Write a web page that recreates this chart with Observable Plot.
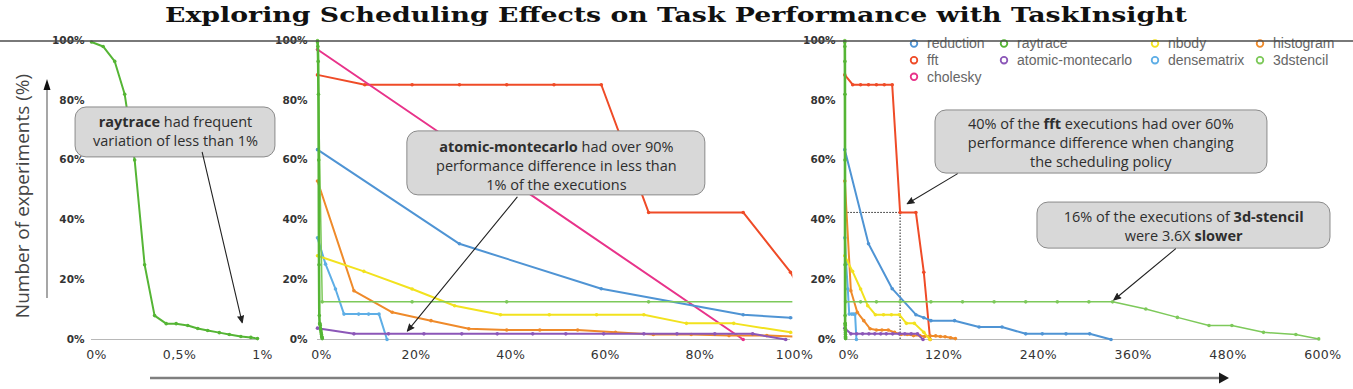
<!DOCTYPE html>
<html>
<head>
<meta charset="utf-8">
<script src="https://cdn.jsdelivr.net/npm/d3@7"></script>
<script src="https://cdn.jsdelivr.net/npm/@observablehq/plot@0.6"></script>
<style>
  body { margin: 0; background: #fff; }
  #fig { position: relative; width: 1353px; height: 389px; overflow: hidden; background: #fff; }
  #fig > svg { position: absolute; top: 0; }
  .panel g[aria-label^="y-axis"] text { font-family: "DejaVu Sans", sans-serif; font-weight: bold; font-size: 10.5px; fill: #333; }
  .panel g[aria-label^="x-axis"] text { font-family: "DejaVu Sans", sans-serif; font-size: 12.5px; fill: #333; letter-spacing: 0.4px; }
</style>
</head>
<body>
<div id="fig"></div>
<script>
// ---------- data ----------
const seriesNames  = ["reduction", "fft", "cholesky", "raytrace", "atomic-montecarlo", "nbody", "densematrix", "histogram", "3dstencil"];
const seriesColors = ["#4f94d4", "#ef4b27", "#e8338a", "#55b535", "#8c57b8", "#f2e21e", "#5eaee6", "#ef8a2a", "#7dc95a"];
const legendOrder  = ["reduction", "raytrace", "nbody", "histogram", "fft", "atomic-montecarlo", "densematrix", "3dstencil", "cholesky"];

// [performance difference (%), experiments (%)]
const raytrace = [[0,99.5],[0.07,98],[0.14,93],[0.2,82],[0.26,60],[0.32,25],[0.38,8],[0.45,5.3],[0.51,5.3],[0.58,4.7],[0.64,3.7],[0.7,3],[0.77,2.3],[0.83,1.7],[0.9,1],[0.96,0.7],[1,0.3]];
const fft = [[0,88.5],[10,85.2],[20,85.2],[30,85.2],[40,85.2],[50,85.2],[60,85.2],[70,42.5],[90,42.5],[100,22.5],[108,0]];
const cholesky = [[0,97],[90,0]];
const reduction = [[0,63.5],[30,32],[60,17],[90,8.3],[100,7.3],[109,6.3],[139,6.3],[170,4.2],[199,4.2],[229,1.9],[250,1.9],[280,1.9],[310,1.9],[337,0]];
const densematrix = [[0,34],[1.7,25.2],[3.8,16.9],[5.6,8.5],[8.7,8.5],[10.8,8.5],[13,8.5],[14.7,0]];
const nbody = [[0,28],[9.8,22.8],[20,16.9],[29,11.3],[38.7,8.3],[49,8.3],[59,8.3],[69,8.3],[78,5.4],[88,5.4],[100,2.4],[108,0]];
const histogram = [[0,53],[7.7,16.3],[15.8,9.1],[24,6.3],[32,3.6],[40,3.2],[47,3.2],[55,3.2],[63,2.4],[71,1.7],[79,1.7],[87,1.3],[95,1.3],[101,1],[108,1.2],[115,1.2],[121,1],[127,0.9],[134,0.6],[140,0.3]];
const atomicMontecarlo = [[0,3.8],[7.7,1.9],[15,1.9],[22.5,1.9],[30.5,1.9],[38,1.9],[45.5,1.9],[52.5,1.9],[60.5,1.9],[69,1.9],[76,1.9],[84,1.9],[92,1.9],[99,0]];
const stencil3d = [[0,100],[1,12.6],[20,12.6],[40,12.6],[70,12.6],[109,12.6],[149,12.6],[189,12.6],[229,12.6],[269,12.6],[309,12.6],[339,12.6],[381,10.2],[421,7.4],[461,4.7],[490,4.7],[530,2.4],[571,1.7],[600,0.2]];

const yTicks = [0, 20, 40, 60, 80, 100];
const yTickLabels = ["0%", "20%", "40%", "60%", "80%", "100%"];
const xTicks1 = [0, 0.5, 1];
const xTickLabels1 = ["0%", "0,5%", "1%"];
const xTicks2 = [0, 20, 40, 60, 80, 100];
const xTickLabels2 = ["0%", "20%", "40%", "60%", "80%", "100%"];
const xTicks3 = [0, 120, 240, 360, 480, 600];
const xTickLabels3 = ["0%", "120%", "240%", "360%", "480%", "600%"];

// annotation callouts (in data units of their panel)
const notes1 = [{text: "**raytrace** had frequent\nvariation of less than 1%", tx: 0.506, ty: 69.8,
  bx1: -0.096, bx2: 1.108, by1: 60.9, by2: 77.6, ax1: 0.667, ay1: 62.6, ax2: 0.908, ay2: 5.6}];
const notes2 = [{text: "**atomic-montecarlo** had over 90%\nperformance difference in less than\n1% of the executions", tx: 50.5, ty: 58.4,
  bx1: 19.0, bx2: 82.0, by1: 48.2, by2: 69.6, ax1: 42.2, ay1: 47.6, ax2: 19.0, ay2: 2.8}];
const notes3 = [
  {text: "40% of the **fft** executions had over 60%\nperformance difference when changing\nthe scheduling policy", tx: 324, ty: 66,
   bx1: 114.8, bx2: 535, by1: 55.5, by2: 76.6, ax1: 142.3, ay1: 55.4, ax2: 79.0, ay2: 45.4},
  {text: "16% of the executions of **3d-stencil**\nwere 3.6X **slower**", tx: 429, ty: 38.2,
   bx1: 243.9, bx2: 614.8, by1: 30.4, by2: 45.8, ax1: 418.6, ay1: 30.3, ax2: 340.5, ay2: 13.2}
];

// ---------- build ----------
const seriesData = {
  "reduction": reduction, "fft": fft, "cholesky": cholesky, "raytrace": raytrace,
  "atomic-montecarlo": atomicMontecarlo, "nbody": nbody, "densematrix": densematrix,
  "histogram": histogram, "3dstencil": stencil3d
};
const colorOf = Object.fromEntries(seriesNames.map((n, i) => [n, seriesColors[i]]));
const rowsOf = name => seriesData[name].map(([x, y]) => ({series: name, x, y}));

const H = 389, MT = 37, MB = 47;

function boldify(svg) {
  svg.querySelectorAll('g[aria-label="text"] text, g[aria-label="text"] tspan').forEach(el => {
    if (el.children.length) return;
    const s = el.textContent;
    if (!s.includes("**")) return;
    el.textContent = "";
    s.split("**").forEach((part, i) => {
      if (!part) return;
      const t = document.createElementNS("http://www.w3.org/2000/svg", "tspan");
      if (i % 2) t.setAttribute("font-weight", "bold");
      t.textContent = part;
      el.appendChild(t);
    });
  });
}

function makePanel(cfg) {
  const marks = [];
  marks.push(Plot.ruleY([0], {x1: cfg.base[0], x2: cfg.base[1], stroke: "#b8b8b8", strokeWidth: 1}));
  if (cfg.crosshair) {
    const p = cfg.crosshair;
    marks.push(Plot.ruleX([p], {x: "x", y1: 0, y2: "y", stroke: "#222", strokeWidth: 1, strokeDasharray: "1.5,1.5"}));
    marks.push(Plot.ruleY([p], {y: "y", x1: 0, x2: "x", stroke: "#222", strokeWidth: 1, strokeDasharray: "1.5,1.5"}));
  }
  for (const name of cfg.names) {
    const d = rowsOf(name);
    const w = name === "3dstencil" ? 1.5 : (name === "raytrace" && cfg.thickRay ? 2.6 : 2);
    marks.push(Plot.line(d, {x: "x", y: "y", stroke: colorOf[name], strokeWidth: w, clip: true}));
    marks.push(Plot.dot(d, {x: "x", y: "y", fill: colorOf[name], r: 1.8, clip: true}));
  }
  for (const n of cfg.notes) {
    marks.push(Plot.rect([n], {x1: "bx1", x2: "bx2", y1: "by1", y2: "by2", fill: "#d8d8d8", stroke: "#8a8a8a", strokeWidth: 1, rx: 11}));
    marks.push(Plot.text([n], {x: "tx", y: "ty", text: "text", lineHeight: 1.32, fontSize: 14.5, fill: "#2e2e2e", fontFamily: "Open Sans"}));
    marks.push(Plot.arrow([n], {x1: "ax1", y1: "ay1", x2: "ax2", y2: "ay2", stroke: "#222", strokeWidth: 1.1, headLength: 10, headAngle: 45}));
  }
  const svg = Plot.plot({
    width: cfg.width, height: H,
    marginTop: MT, marginBottom: MB, marginLeft: cfg.ml, marginRight: cfg.mr,
    style: {background: "transparent", fontFamily: "DejaVu Sans", overflow: "visible"},
    x: {domain: cfg.domain, ticks: cfg.ticks, tickFormat: v => cfg.tickLabels[cfg.ticks.indexOf(v)] ?? "", tickSize: 0, tickPadding: 8, label: null},
    y: {domain: [-1, 101], ticks: yTicks, tickFormat: v => yTickLabels[yTicks.indexOf(v)] ?? "", tickSize: 0, tickPadding: cfg.ypad, label: null},
    marks
  });
  svg.classList.add("panel");
  svg.style.left = cfg.left + "px";
  boldify(svg);
  svg.querySelectorAll('g[aria-label^="x-axis"] text').forEach(t => t.setAttribute("dx", cfg.dx));
  // filled arrowheads: the head sub-path closes into a triangle when filled
  svg.querySelectorAll('g[aria-label="arrow"] path').forEach(p => { p.setAttribute("fill", "#222"); p.setAttribute("stroke-linejoin", "miter"); });
  return svg;
}

const fig = document.getElementById("fig");

fig.appendChild(makePanel({
  left: 0, width: 300, ml: 87.68, mr: 39.68, domain: [-0.02, 1.02], ypad: 3.7, dx: 5,
  ticks: xTicks1, tickLabels: xTickLabels1, base: [0, 1], names: ["raytrace"], notes: notes1
}));
fig.appendChild(makePanel({
  left: 270, width: 540, ml: 44.64, mr: 17.64, domain: [-0.5, 100.5], ypad: 7.6, dx: 4,
  ticks: xTicks2, tickLabels: xTickLabels2, base: [0, 100], thickRay: true,
  names: ["fft", "cholesky", "reduction", "densematrix", "histogram", "nbody", "3dstencil", "atomic-montecarlo", "raytrace"],
  notes: notes2
}));
fig.appendChild(makePanel({
  left: 800, width: 553, ml: 41.93, mr: 32.33, domain: [-3, 603], ypad: 6.9, dx: 4,
  ticks: xTicks3, tickLabels: xTickLabels3, base: [0, 600], thickRay: true,
  crosshair: {x: fft[7][0], y: fft[7][1]},
  names: ["fft", "reduction", "densematrix", "histogram", "nbody", "3dstencil", "atomic-montecarlo", "raytrace"],
  notes: notes3
}));

// overlay: title, rule, legend, axis titles & arrows
const ov = d3.create("svg").attr("width", 1353).attr("height", 389).style("left", "0px").style("pointer-events", "none");
ov.append("text")
  .attr("x", 165).attr("y", 22)
  .attr("textLength", 1022).attr("lengthAdjust", "spacingAndGlyphs")
  .attr("font-family", "DejaVu Serif").attr("font-weight", "bold").attr("font-size", 21).attr("fill", "#111")
  .text("Exploring Scheduling Effects on Task Performance with TaskInsight");

// legend
const colX = [914, 1004, 1155, 1260], rowY = [43.5, 60.2, 76.8];
legendOrder.forEach((name, i) => {
  const cx = colX[i % 4], cy = rowY[Math.floor(i / 4)];
  const g = ov.append("g");
  g.append("circle").attr("cx", cx).attr("cy", cy).attr("r", 3.3).attr("fill", "none").attr("stroke", colorOf[name]).attr("stroke-width", 1.8);
  g.append("text").attr("x", cx + 13).attr("y", cy + 4.8).attr("font-family", "Liberation Sans").attr("font-size", 14).attr("fill", "#666").text(name);
});

ov.append("line").attr("x1", 0).attr("x2", 1353).attr("y1", 41).attr("y2", 41).attr("stroke", "#4d4d4d").attr("stroke-width", 1.5);

ov.append("text")
  .attr("transform", "translate(29,196) rotate(-90)")
  .attr("text-anchor", "middle")
  .attr("font-family", "Open Sans").attr("font-size", 19).attr("fill", "#444")
  .text("Number of experiments (%)");
ov.append("line").attr("x1", 47).attr("x2", 47).attr("y1", 298).attr("y2", 88).attr("stroke", "#777").attr("stroke-width", 1.3);
ov.append("path").attr("d", "M47,79 L43.5,90 L50.5,90 Z").attr("fill", "#111");
ov.append("line").attr("x1", 150).attr("x2", 1220).attr("y1", 378).attr("y2", 378).attr("stroke", "#7f7f7f").attr("stroke-width", 2.6);
ov.append("path").attr("d", "M1229,378 L1219,372.5 L1219,383.5 Z").attr("fill", "#1a1a1a");
fig.appendChild(ov.node());
</script>
</body>
</html>
